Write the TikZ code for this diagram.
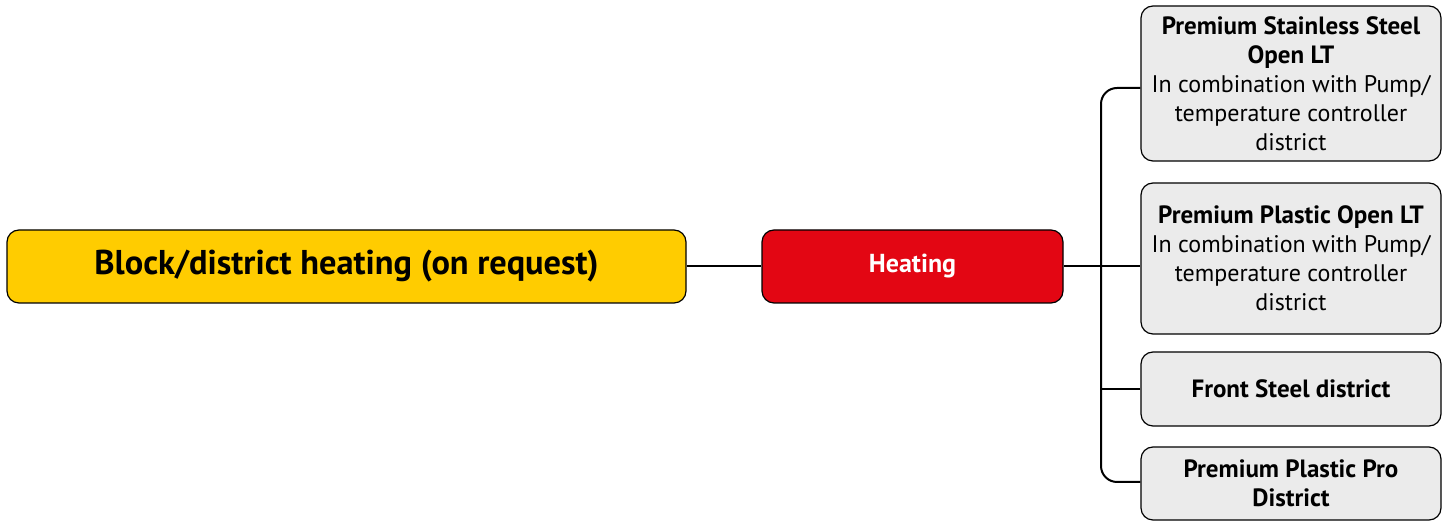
\documentclass[tikz,border=0pt]{standalone}
\usepackage{fontspec}
\setmainfont{PT Sans}
\definecolor{blockyellow}{HTML}{FFCC00}
\definecolor{heatred}{HTML}{E30613}
\definecolor{boxgray}{HTML}{EBEBEB}
\newcommand{\prodname}[1]{{\fontsize{12.5}{14.5}\selectfont\bfseries #1}}

\begin{document}
\begin{tikzpicture}[x=0.5pt,y=-0.5pt]
		\tikzset{box/.style = {draw, line width=0.6pt, rounded corners=6pt, inner sep=0pt, align=center, text=black}}
		\tikzset{product/.style = {box, fill=boxgray, minimum width=150pt, font=\fontsize{12}{14.5}\selectfont}}
		\tikzset{edge/.style = {line width=1pt}}
		
		\useasboundingbox (0,0) rectangle (1447,528);
		
		\node[box, fill=blockyellow, minimum width=339.5pt, minimum height=36.5pt, font=\fontsize{17.2}{20}\selectfont\bfseries] (1) at ( 346.5, 266.5) {Block/district heating (on request)};
		\node[box, fill=heatred, text=white, minimum width=150.5pt, minimum height=36.5pt, font=\fontsize{13}{15}\selectfont\bfseries] (2) at ( 912.5, 266.5) {Heating};
		\node[product, minimum height=77.5pt] (3) at (1291,  83.5) {\prodname{Premium Stainless Steel}\\\prodname{Open LT}\\In combination with Pump/\\temperature controller\\district};
		\node[product, minimum height=75.5pt] (4) at (1291, 258.5) {\prodname{Premium Plastic Open LT}\\In combination with Pump/\\temperature controller\\district};
		\node[product, minimum height=37pt  ] (5) at (1291, 389  ) {\prodname{Front Steel district}};
		\node[product, minimum height=36.5pt] (6) at (1291, 483.5) {\prodname{Premium Plastic Pro}\\\prodname{District}};
		
		\coordinate (a) at (1101,  88);
		\coordinate (b) at (1101, 482);
		
		\draw[edge] (1) -- (2);
		\draw[edge] (2.east) -- (2.east -| 4.west);
		\draw[edge, rounded corners=8pt] (a -| 3.west) -- (a) -- (b) -- (b -| 6.west);
		\draw[edge] (5.west) -- (5.west -| a);
		\end{tikzpicture}
\end{document}
